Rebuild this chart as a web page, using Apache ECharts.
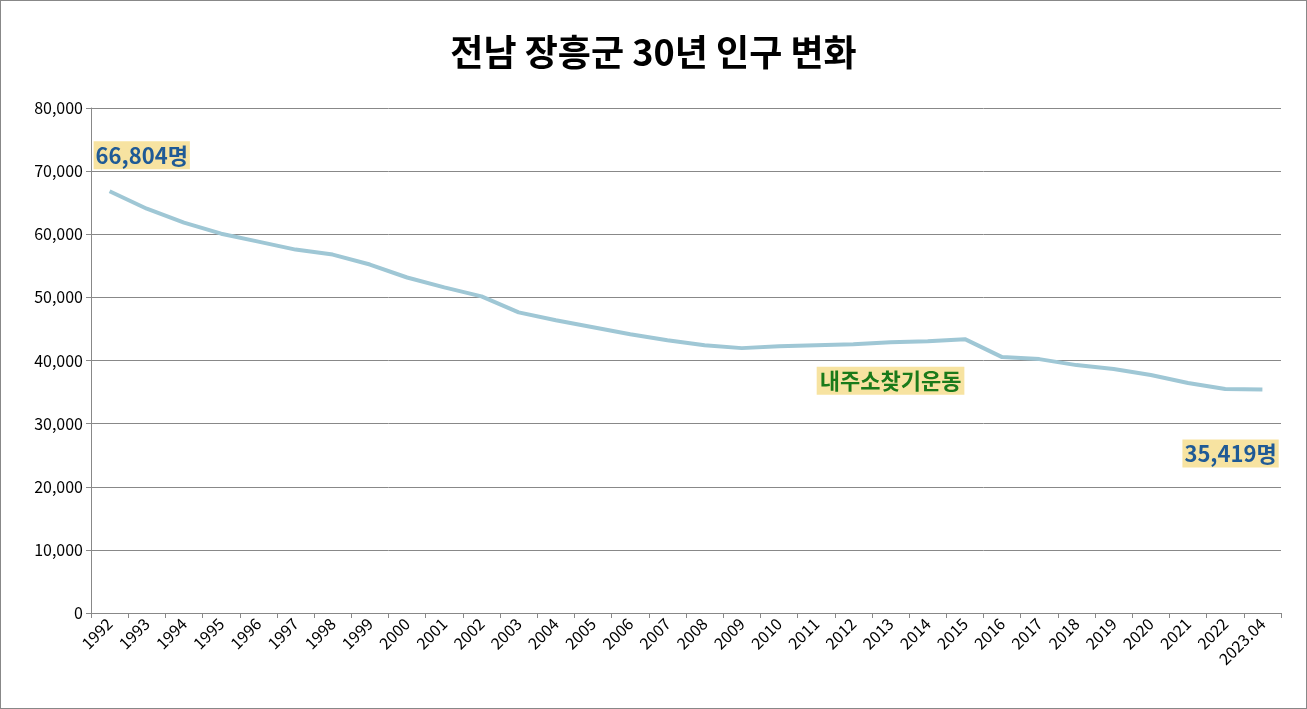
<!DOCTYPE html>
<html><head><meta charset="utf-8">
<script src="https://cdn.jsdelivr.net/npm/echarts@6/dist/echarts.min.js"></script>
<style>html,body{margin:0;padding:0;background:#fff}#c{width:1307px;height:709px;box-sizing:border-box;border:1px solid #888}</style>
</head><body><div id="c"></div>
<script>
const categories=['1992','1993','1994','1995','1996','1997','1998','1999','2000','2001','2002','2003','2004','2005','2006','2007','2008','2009','2010','2011','2012','2013','2014','2015','2016','2017','2018','2019','2020','2021','2022','2023.04'];
const population=[66804,64040,61830,60090,58830,57570,56780,55200,53150,51580,50160,47630,46370,45270,44160,43220,42430,41960,42270,42430,42590,42900,43060,43380,40540,40220,39270,38640,37700,36440,35490,35419];
const yTicks={min:0,max:80000,interval:10000};
const ff='"Noto Sans CJK KR","Noto Sans",sans-serif';
const lbl={show:true,fontFamily:ff,fontSize:22,fontWeight:'bold',color:'#1f5a96',backgroundColor:'#f7e3a1',padding:[3,2,3,2],
 formatter:p=>p.value.toLocaleString('en-US')+'명'};
const data=population.map((v,i)=>{
  if(i===0) return {value:v,label:Object.assign({},lbl,{position:[-16,-50]})};
  if(i===population.length-1) return {value:v,label:Object.assign({},lbl,{position:[-80,50]})};
  return {value:v,label:{show:false}};});
const chart=echarts.init(document.getElementById('c'));
chart.setOption({
 animation:false,
 title:{text:'전남 장흥군 30년 인구 변화',left:'center',top:28,textStyle:{fontFamily:ff,fontSize:36,fontWeight:'bold',color:'#000'}},
 grid:{left:90,right:25,top:107,bottom:95},
 xAxis:{type:'category',data:categories,boundaryGap:true,
  axisLine:{lineStyle:{color:'#888'}},axisTick:{show:true,lineStyle:{color:'#888'}},
  axisLabel:{rotate:45,interval:0,fontFamily:ff,fontSize:16,color:'#000'}},
 yAxis:{type:'value',min:yTicks.min,max:yTicks.max,interval:yTicks.interval,
  axisLine:{show:true,lineStyle:{color:'#888'}},axisTick:{show:true,lineStyle:{color:'#888'}},
  splitLine:{lineStyle:{color:'#888'}},
  axisLabel:{fontFamily:ff,fontSize:16,color:'#000',formatter:v=>v.toLocaleString('en-US')}},
 series:[{type:'line',data:data,symbol:'circle',symbolSize:0,showSymbol:true,smooth:false,lineStyle:{color:'#9fc7d5',width:4},itemStyle:{color:'#9fc7d5'},
  markPoint:{symbol:'rect',symbolSize:0,data:[{coord:['2013',36800],value:'내주소찾기운동',
   label:{show:true,formatter:'내주소찾기운동',fontFamily:ff,fontSize:22,fontWeight:'bold',color:'#1a7a1a',backgroundColor:'#f7e3a1',padding:[3,3,3,3]}}]}}]
});
</script></body></html>
